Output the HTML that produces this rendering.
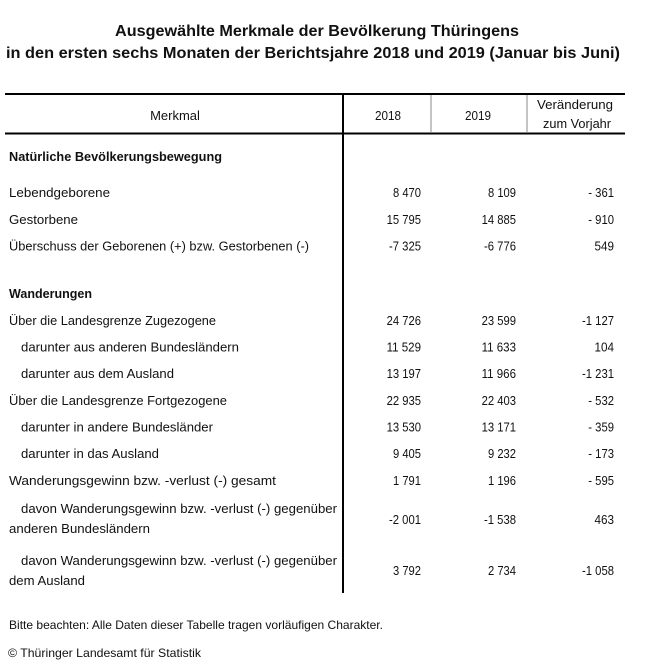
<!DOCTYPE html>
<html>
<head>
<meta charset="utf-8">
<style>
  html,body{margin:0;padding:0;background:#fff;}
  svg{display:block;}
  text{font-family:"Liberation Sans",Arial,sans-serif;fill:#111;}
  .t{font-size:15.5px;font-weight:bold;}
  .l{font-size:13px;}
  .b{font-size:13px;font-weight:bold;}
  .n{font-size:13px;}
  .s{font-size:12px;}
</style>
</head>
<body>
<svg width="655" height="668" viewBox="0 0 655 668" xmlns="http://www.w3.org/2000/svg">
  <rect width="655" height="668" fill="#fff"/>

  <!-- Title -->
  <text class="t" x="115" y="36" textLength="404" lengthAdjust="spacingAndGlyphs">Ausgewählte Merkmale der Bevölkerung Thüringens</text>
  <text class="t" x="6" y="58" textLength="614" lengthAdjust="spacingAndGlyphs">in den ersten sechs Monaten der Berichtsjahre 2018 und 2019 (Januar bis Juni)</text>

  <!-- Table lines -->
  <rect x="5" y="93" width="620" height="2" fill="#000"/>
  <rect x="5" y="132.5" width="620" height="2" fill="#000"/>
  <rect x="342" y="93" width="2" height="500" fill="#000"/>
  <rect x="430.5" y="95" width="1" height="38" fill="#888"/>
  <rect x="526.5" y="95" width="1" height="38" fill="#888"/>

  <!-- Header -->
  <text class="l" x="175" y="120" text-anchor="middle">Merkmal</text>
  <text class="l" x="388" y="120" text-anchor="middle" textLength="26" lengthAdjust="spacingAndGlyphs">2018</text>
  <text class="l" x="478" y="120" text-anchor="middle" textLength="26" lengthAdjust="spacingAndGlyphs">2019</text>
  <text class="l" x="575" y="109" text-anchor="middle" textLength="76" lengthAdjust="spacingAndGlyphs">Veränderung</text>
  <text class="l" x="577" y="128" text-anchor="middle" textLength="68" lengthAdjust="spacingAndGlyphs">zum Vorjahr</text>

  <!-- Section 1 -->
  <text class="b" x="9" y="161" textLength="213" lengthAdjust="spacingAndGlyphs">Natürliche Bevölkerungsbewegung</text>

  <text class="l" x="9" y="197" textLength="101" lengthAdjust="spacingAndGlyphs">Lebendgeborene</text>
  <text class="n" x="421" y="197" text-anchor="end" textLength="28" lengthAdjust="spacingAndGlyphs">8 470</text>
  <text class="n" x="516" y="197" text-anchor="end" textLength="28" lengthAdjust="spacingAndGlyphs">8 109</text>
  <text class="n" x="614" y="197" text-anchor="end" textLength="25.7" lengthAdjust="spacingAndGlyphs">- 361</text>

  <text class="l" x="9" y="224" textLength="69" lengthAdjust="spacingAndGlyphs">Gestorbene</text>
  <text class="n" x="421" y="224" text-anchor="end" textLength="34.4" lengthAdjust="spacingAndGlyphs">15 795</text>
  <text class="n" x="516" y="224" text-anchor="end" textLength="34.4" lengthAdjust="spacingAndGlyphs">14 885</text>
  <text class="n" x="614" y="224" text-anchor="end" textLength="25.7" lengthAdjust="spacingAndGlyphs">- 910</text>

  <text class="l" x="9" y="250.5" textLength="300" lengthAdjust="spacingAndGlyphs">Überschuss der Geborenen (+) bzw. Gestorbenen (-)</text>
  <text class="n" x="421" y="250.5" text-anchor="end" textLength="32" lengthAdjust="spacingAndGlyphs">-7 325</text>
  <text class="n" x="516" y="250.5" text-anchor="end" textLength="32" lengthAdjust="spacingAndGlyphs">-6 776</text>
  <text class="n" x="614" y="250.5" text-anchor="end" textLength="19.5" lengthAdjust="spacingAndGlyphs">549</text>

  <!-- Section 2 -->
  <text class="b" x="9" y="298" textLength="83" lengthAdjust="spacingAndGlyphs">Wanderungen</text>

  <text class="l" x="9" y="325" textLength="207" lengthAdjust="spacingAndGlyphs">Über die Landesgrenze Zugezogene</text>
  <text class="n" x="421" y="325" text-anchor="end" textLength="34.4" lengthAdjust="spacingAndGlyphs">24 726</text>
  <text class="n" x="516" y="325" text-anchor="end" textLength="34.4" lengthAdjust="spacingAndGlyphs">23 599</text>
  <text class="n" x="614" y="325" text-anchor="end" textLength="32" lengthAdjust="spacingAndGlyphs">-1 127</text>

  <text class="l" x="21" y="351.5" textLength="218" lengthAdjust="spacingAndGlyphs">darunter aus anderen Bundesländern</text>
  <text class="n" x="421" y="351.5" text-anchor="end" textLength="34.4" lengthAdjust="spacingAndGlyphs">11 529</text>
  <text class="n" x="516" y="351.5" text-anchor="end" textLength="34.4" lengthAdjust="spacingAndGlyphs">11 633</text>
  <text class="n" x="614" y="351.5" text-anchor="end" textLength="19.5" lengthAdjust="spacingAndGlyphs">104</text>

  <text class="l" x="21" y="378" textLength="153" lengthAdjust="spacingAndGlyphs">darunter aus dem Ausland</text>
  <text class="n" x="421" y="378" text-anchor="end" textLength="34.4" lengthAdjust="spacingAndGlyphs">13 197</text>
  <text class="n" x="516" y="378" text-anchor="end" textLength="34.4" lengthAdjust="spacingAndGlyphs">11 966</text>
  <text class="n" x="614" y="378" text-anchor="end" textLength="32" lengthAdjust="spacingAndGlyphs">-1 231</text>

  <text class="l" x="9" y="405" textLength="218" lengthAdjust="spacingAndGlyphs">Über die Landesgrenze Fortgezogene</text>
  <text class="n" x="421" y="405" text-anchor="end" textLength="34.4" lengthAdjust="spacingAndGlyphs">22 935</text>
  <text class="n" x="516" y="405" text-anchor="end" textLength="34.4" lengthAdjust="spacingAndGlyphs">22 403</text>
  <text class="n" x="614" y="405" text-anchor="end" textLength="25.7" lengthAdjust="spacingAndGlyphs">- 532</text>

  <text class="l" x="21" y="431.5" textLength="192" lengthAdjust="spacingAndGlyphs">darunter in andere Bundesländer</text>
  <text class="n" x="421" y="431.5" text-anchor="end" textLength="34.4" lengthAdjust="spacingAndGlyphs">13 530</text>
  <text class="n" x="516" y="431.5" text-anchor="end" textLength="34.4" lengthAdjust="spacingAndGlyphs">13 171</text>
  <text class="n" x="614" y="431.5" text-anchor="end" textLength="25.7" lengthAdjust="spacingAndGlyphs">- 359</text>

  <text class="l" x="21" y="458" textLength="138" lengthAdjust="spacingAndGlyphs">darunter in das Ausland</text>
  <text class="n" x="421" y="458" text-anchor="end" textLength="28" lengthAdjust="spacingAndGlyphs">9 405</text>
  <text class="n" x="516" y="458" text-anchor="end" textLength="28" lengthAdjust="spacingAndGlyphs">9 232</text>
  <text class="n" x="614" y="458" text-anchor="end" textLength="25.7" lengthAdjust="spacingAndGlyphs">- 173</text>

  <text class="l" x="9" y="485" textLength="267" lengthAdjust="spacingAndGlyphs">Wanderungsgewinn bzw. -verlust (-) gesamt</text>
  <text class="n" x="421" y="485" text-anchor="end" textLength="28" lengthAdjust="spacingAndGlyphs">1 791</text>
  <text class="n" x="516" y="485" text-anchor="end" textLength="28" lengthAdjust="spacingAndGlyphs">1 196</text>
  <text class="n" x="614" y="485" text-anchor="end" textLength="25.7" lengthAdjust="spacingAndGlyphs">- 595</text>

  <text class="l" x="21" y="513" textLength="316" lengthAdjust="spacingAndGlyphs">davon Wanderungsgewinn bzw. -verlust (-) gegenüber</text>
  <text class="l" x="9" y="533" textLength="141" lengthAdjust="spacingAndGlyphs">anderen Bundesländern</text>
  <text class="n" x="421" y="524" text-anchor="end" textLength="32" lengthAdjust="spacingAndGlyphs">-2 001</text>
  <text class="n" x="516" y="524" text-anchor="end" textLength="32" lengthAdjust="spacingAndGlyphs">-1 538</text>
  <text class="n" x="614" y="524" text-anchor="end" textLength="19.5" lengthAdjust="spacingAndGlyphs">463</text>

  <text class="l" x="21" y="565" textLength="316" lengthAdjust="spacingAndGlyphs">davon Wanderungsgewinn bzw. -verlust (-) gegenüber</text>
  <text class="l" x="9" y="585" textLength="76" lengthAdjust="spacingAndGlyphs">dem Ausland</text>
  <text class="n" x="421" y="575" text-anchor="end" textLength="28" lengthAdjust="spacingAndGlyphs">3 792</text>
  <text class="n" x="516" y="575" text-anchor="end" textLength="28" lengthAdjust="spacingAndGlyphs">2 734</text>
  <text class="n" x="614" y="575" text-anchor="end" textLength="32" lengthAdjust="spacingAndGlyphs">-1 058</text>

  <!-- Notes -->
  <text class="s" x="9" y="629" textLength="374" lengthAdjust="spacingAndGlyphs">Bitte beachten: Alle Daten dieser Tabelle tragen vorläufigen Charakter.</text>
  <text class="s" x="8" y="657" textLength="193" lengthAdjust="spacingAndGlyphs">© Thüringer Landesamt für Statistik</text>
</svg>
</body>
</html>
